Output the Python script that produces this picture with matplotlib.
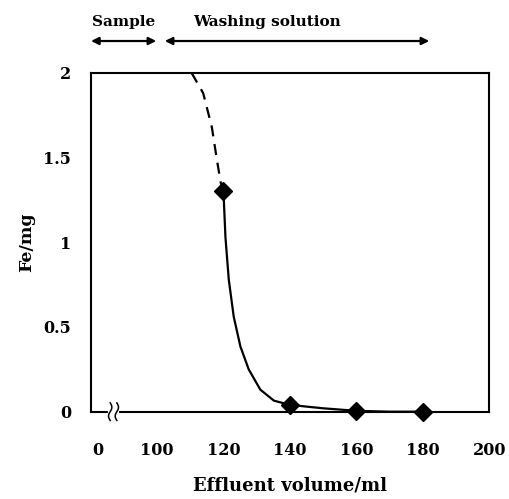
import numpy as np
import matplotlib
matplotlib.use('Agg')
import matplotlib.pyplot as plt
import matplotlib.transforms as mtransforms

# ── data ──────────────────────────────────────────────────────────────────
marker_x = [120, 140, 160, 180]
marker_y = [1.3, 0.04, 0.005, 0.0]

# dashed extrapolation above the first point
dash_x = [110.4, 113.9, 116.5, 118.0, 119.2, 120.0]
dash_y = [2.0, 1.88, 1.68, 1.49, 1.35, 1.3]

# solid fitted curve
curve_x = [120, 120.6, 121.6, 123.1, 125.1, 127.6, 131.1, 135.2, 140, 150, 160, 170, 180]
curve_y = [1.3, 1.03, 0.78, 0.56, 0.385, 0.25, 0.13, 0.065, 0.04, 0.02, 0.005, 0.0, 0.0]

xtick_pos = [82.2, 100, 120, 140, 160, 180, 200]
xtick_lab = ['0', '100', '120', '140', '160', '180', '200']
ytick_pos = [0, 0.5, 1, 1.5, 2]
ytick_lab = ['0', '0.5', '1', '1.5', '2']

plt.rcParams['font.family'] = ['DejaVu Serif']
plt.rcParams['font.weight'] = 'bold'

fig = plt.figure(figsize=(5.09, 4.99), dpi=100)
ax = fig.add_axes([0.178, 0.175, 0.783, 0.679])

ax.plot(dash_x, dash_y, color='black', lw=1.6, ls=(0, (5, 3.5)))
ax.plot(curve_x, curve_y, color='black', lw=1.6)
ax.plot(marker_x, marker_y, ls='none', marker='D', ms=9, color='black', clip_on=False)

ax.set_xlim(80, 200)
ax.set_ylim(0, 2)
ax.set_xticks(xtick_pos)
ax.set_xticklabels(xtick_lab)
ax.set_yticks(ytick_pos)
ax.set_yticklabels(ytick_lab)
ax.tick_params(axis='both', length=0, labelsize=11.5)
ax.tick_params(axis='x', pad=21.5)
ax.tick_params(axis='y', pad=14)
for s in ax.spines.values():
    s.set_linewidth(1.5)

ax.set_xlabel('Effluent volume/ml', fontsize=13, fontweight='bold', labelpad=13)
ax.set_ylabel('Fe/mg', fontsize=12.5, fontweight='bold', labelpad=6)

# axis break on the bottom spine
trans = mtransforms.blended_transform_factory(ax.transData, ax.transAxes)
ax.plot([85.9, 87.9], [0, 0], color='white', lw=3, transform=trans, clip_on=False, zorder=5)
t = np.linspace(-1, 1, 40)
for xc in (85.9, 87.9):
    ax.plot(xc + 0.5 * np.sin(np.pi * t), 0.026 * t, color='black', lw=1.1,
            transform=trans, clip_on=False, zorder=6)

# phase arrows above the plot
arrow_kw = dict(arrowstyle='<|-|>', color='black', lw=1.6, mutation_scale=11)
ax.annotate('', xy=(79.3, 1.094), xytext=(100.6, 1.094), xycoords=trans,
            textcoords=trans, arrowprops=arrow_kw, annotation_clip=False)
ax.annotate('', xy=(101.5, 1.094), xytext=(182.8, 1.094), xycoords=trans,
            textcoords=trans, arrowprops=arrow_kw, annotation_clip=False)
ax.text(89.8, 1.151, 'Sample', transform=trans, ha='center', va='center',
        fontsize=11, fontweight='bold')
ax.text(133.0, 1.151, 'Washing solution', transform=trans, ha='center', va='center',
        fontsize=11, fontweight='bold')

fig.savefig('out.png', dpi=100)
